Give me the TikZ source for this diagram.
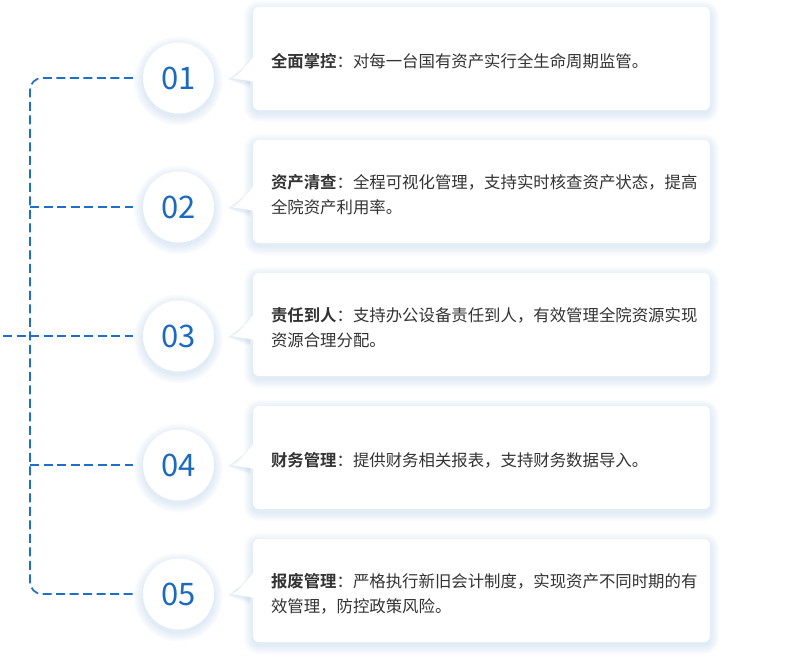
\documentclass[tikz,border=0pt]{standalone}
\usepackage{fontspec}
\setmainfont{Noto Sans CJK SC}[BoldFont={Noto Sans CJK SC Bold}]
\usepackage{xcolor}
\usepackage{tikz}
\usetikzlibrary{positioning}

\definecolor{numblue}{HTML}{1B6AC0}
\definecolor{linkblue}{HTML}{1E6FC8}
\definecolor{glow}{HTML}{8DB4E2}
\definecolor{ink}{HTML}{333333}

\begin{document}
\begin{tikzpicture}[x=1pt,y=-1pt,
  haze/.style={fill=glow,opacity=0.028},
  card/.style={rectangle,fill=white,rounded corners=6pt,
    minimum width=457pt,minimum height=103pt,inner sep=0pt},
  num/.style={circle,fill=white,minimum size=71pt,inner sep=0pt,
    text=numblue,font=\fontsize{31pt}{31pt}\selectfont},
  txt/.style={anchor=west,inner sep=0pt,align=left,text=ink,
    font=\fontsize{16.4pt}{25pt}\selectfont},
  bus/.style={draw=linkblue,line width=1.7pt,dash pattern=on 9pt off 4.5pt}]
  \useasboundingbox[fill=white] (0,0) rectangle (800,657);
  \coordinate (bl) at (30,0);
  \coordinate (lm) at (3,0);
  % cards and numbers
  \foreach \i/\lab/\desc [evaluate=\i as \cy using 78+129*(\i-1),
      evaluate=\i as \ty using 58.5+133*(\i-1)] in {
    1/全面掌控/{对每一台国有资产实行全生命周期监管。},
    2/资产清查/{全程可视化管理，支持实时核查资产状态，提高\\全院资产利用率。},
    3/责任到人/{支持办公设备责任到人，有效管理全院资源实现\\资源合理分配。},
    4/财务管理/{提供财务相关报表，支持财务数据导入。},
    5/报废管理/{严格执行新旧会计制度，实现资产不同时期的有\\效管理，防控政策风险。}} {
    % soft glow under card and circle
    \foreach \k in {1,...,9} {
      \fill[haze,rounded corners={(6+\k)*1pt}] (253-\k,\ty-51.5-\k+3) rectangle (710+\k,\ty+51.5+\k+3);
      \fill[haze] (178.5,\cy+3) circle[radius=35.5+\k];
      \fill[haze] (250,\cy-20+\k) -- (232-\k*0.6,\cy+1) -- (250,\cy+5+\k*0.6) -- cycle;
    }
    \node[card] (c\i) at (481.5,\ty) {};
    \fill[white] (256,\cy-22) -- (254,\cy-22) .. controls (246,\cy-12) and (239,\cy-3) .. (232,\cy)
      .. controls (240,\cy+2) and (248,\cy+2) .. (254,\cy+4) -- (256,\cy+4) -- cycle;
    \node[txt] (t\i) at ([xshift=18pt,yshift=-3pt]c\i.west) {\textbf{\lab}：\desc};
    \node[num] (n\i) at (178.5,\cy) {0\i};
  }
  % dashed links
  \draw[bus,rounded corners=12pt] ([xshift=-10pt]n1.west) -| (bl |- n5.west)
    -- ([xshift=-10pt]n5.west);
  \draw[bus] (bl |- n2.west) -- ([xshift=-10pt]n2.west);
  \draw[bus] (lm |- n3.west) -- ([xshift=-10pt]n3.west);
  \draw[bus] (bl |- n4.west) -- ([xshift=-10pt]n4.west);
\end{tikzpicture}
\end{document}
